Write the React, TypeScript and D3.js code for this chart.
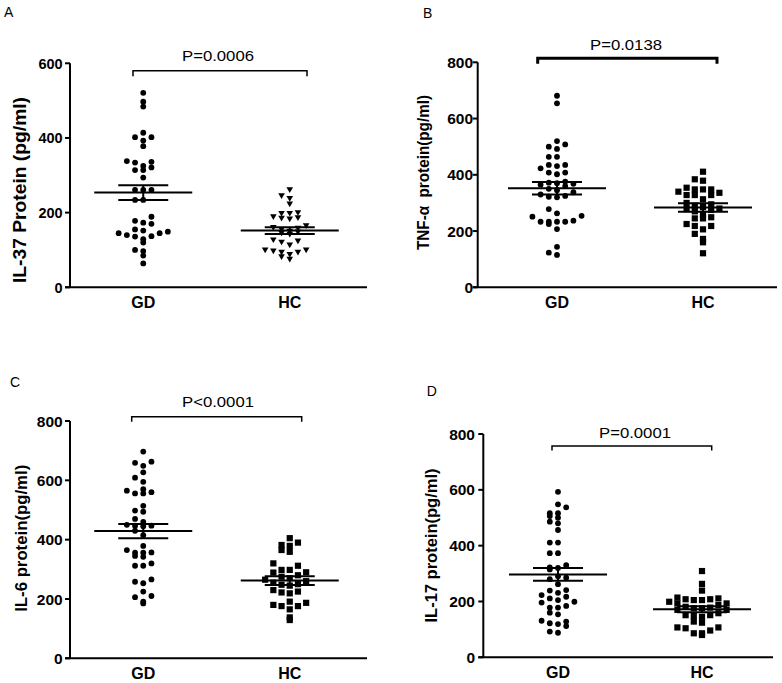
import React from 'react';
import * as d3 from 'd3';

const categories = ['GD', 'HC'];

// Panel A: IL-37
const il37GD = [521, 497, 484, 414, 393, 402, 402, 378, 338, 325, 314, 314, 321, 334, 336, 294, 261, 261, 261, 234, 234, 189, 178, 170, 173, 149, 145, 155, 152, 137, 140, 145, 136, 129, 120, 100, 97, 85, 64];
const il37HC = [261, 238, 245, 223, 200, 198, 183, 186, 189, 198, 185, 165, 160, 158, 155, 150, 148, 145, 142, 121, 124, 127, 113, 100, 94, 94, 97, 100, 88, 75, 82];
const il37Mean = [253.6, 152];
const il37Sem = [20, 9];

// Panel B: TNF-alpha
const tnfGD = [681, 654, 520, 508, 500, 492, 464, 464, 435, 431, 435, 423, 408, 402, 408, 376, 372, 370, 368, 365, 360, 350, 345, 338, 330, 325, 322, 320, 278, 263, 251, 254, 233, 233, 225, 233, 233, 237, 207, 144, 115, 123];
const tnfHC = [411, 384, 379, 354, 348, 340, 328, 328, 328, 336, 348, 348, 313, 300, 295, 290, 285, 280, 278, 275, 270, 249, 245, 257, 245, 218, 225, 206, 218, 190, 172, 160, 121];
const tnfMean = [352, 284];
const tnfSem = [22, 15];

// Panel C: IL-6
const il6GD = [697, 663, 659, 649, 627, 609, 595, 570, 560, 556, 556, 565, 514, 498, 494, 470, 460, 447, 447, 450, 445, 430, 415, 379, 365, 356, 345, 356, 357, 342, 312, 312, 320, 266, 253, 258, 225, 206, 185, 191, 210];
const il6HC = [405, 379, 390, 382, 359, 365, 320, 298, 289, 312, 298, 290, 280, 275, 270, 265, 260, 255, 250, 248, 245, 225, 219, 222, 230, 191, 180, 176, 165, 176, 187, 129, 138];
const il6Mean = [429, 262];
const il6Sem = [24, 15];

// Panel D: IL-17
const il17GD = [593, 548, 537, 516, 506, 486, 500, 516, 480, 456, 411, 411, 373, 373, 322, 315, 320, 330, 280, 285, 290, 262, 241, 231, 217, 223, 239, 211, 205, 196, 199, 178, 178, 184, 154, 160, 131, 122, 119, 128, 112, 88, 92];
const il17HC = [309, 263, 239, 211, 205, 193, 187, 193, 205, 199, 208, 208, 214, 178, 170, 181, 176, 170, 176, 151, 148, 145, 151, 158, 128, 124, 104, 96, 107, 107, 86, 80, 86];
const il17Mean = [297, 172];
const il17Sem = [23, 11];

const ticks600 = [0, 200, 400, 600];
const ticks800 = [0, 200, 400, 600, 800];
const yTitles = ['IL-37 Protein (pg/ml)', 'TNF-\u03b1  protein(pg/ml)', 'IL-6 protein(pg/ml)', 'IL-17 protein(pg/ml)'];
const pLabels = ['P=0.0006', 'P=0.0138', 'P<0.0001', 'P=0.0001'];
const letters = ['A', 'B', 'C', 'D'];

const FONT = '"Liberation Sans", Arial, Helvetica, sans-serif';

type Layout = {
  x0: number; x1: number; yTop: number; yBottom: number; catRange: [number, number];
  tickFont: number; tickOff: number; titleX: number; titleY: number; titleLen: number; titleFont: number;
  pX: number; pY: number; brY: number; brX: [number, number]; brDrop: number; brW: number;
  letterX: number; letterY: number;
};

const layouts: Layout[] = [
  { x0: 70, x1: 367, yTop: 63.3, yBottom: 287.3, catRange: [70, 363], tickFont: 14.5, tickOff: 7.3, titleX: 20, titleY: 190, titleLen: 186, titleFont: 18, pX: 218, pY: 60.7, brY: 70.7, brX: [133, 307], brDrop: 5.5, brW: 1.5, letterX: 4, letterY: 17 },
  { x0: 477.7, x1: 777, yTop: 62.3, yBottom: 287.3, catRange: [484, 776], tickFont: 15.5, tickOff: 4.6, titleX: 423, titleY: 172.5, titleLen: 155, titleFont: 16, pX: 626, pY: 50, brY: 58.3, brX: [537.7, 717], brDrop: 5.5, brW: 3, letterX: 423, letterY: 18.3 },
  { x0: 70, x1: 367, yTop: 421, yBottom: 658.3, catRange: [70, 363], tickFont: 15.5, tickOff: 7.3, titleX: 20.7, titleY: 538.3, titleLen: 147, titleFont: 16.5, pX: 218, pY: 406.7, brY: 416.7, brX: [131.7, 301.7], brDrop: 5, brW: 1.5, letterX: 10, letterY: 386.7 },
  { x0: 483.3, x1: 773, yTop: 434, yBottom: 657.3, catRange: [486, 774], tickFont: 15.5, tickOff: 8.3, titleX: 431, titleY: 545.5, titleLen: 154, titleFont: 16.5, pX: 635, pY: 438.3, brY: 446, brX: [552, 711.7], brDrop: 4.5, brW: 1.5, letterX: 426.7, letterY: 396 },
];

const STEP = 8.2;
const BIN = 8;

function swarm(values: number[], y: d3.ScaleLinear<number, number>, cx: number) {
  const y0 = y(0);
  const items = values.map((v, i) => ({ v, i }));
  const groups = d3.group(items, (d) => Math.floor((y0 - y(d.v)) / BIN));
  const out: { x: number; y: number }[] = [];
  groups.forEach((g) => {
    const sorted = g.slice().sort((a, b) => a.v - b.v);
    sorted.forEach((d, k) => {
      const slot = k % 2 === 1 ? -(k + 1) / 2 : k / 2;
      out.push({ x: cx + slot * STEP, y: y(d.v) });
    });
  });
  return out;
}

type PanelProps = {
  L: Layout; gd: number[]; hc: number[]; mean: number[]; sem: number[]; ticks: number[];
  title: string; pLabel: string; letter: string; hcShape: 'triangle' | 'square';
};

function Panel({ L, gd, hc, mean, sem, ticks, title, pLabel, letter, hcShape }: PanelProps) {
  const yMax = ticks[ticks.length - 1];
  const y = d3.scaleLinear().domain([0, yMax]).range([L.yBottom, L.yTop]);
  const x = d3.scalePoint<string>().domain(categories).range(L.catRange).padding(0.5);
  const gdPts = swarm(gd, y, x('GD') as number);
  const hcPts = swarm(hc, y, x('HC') as number);
  const tri = 'M-3.3,-2.5L3.3,-2.5L0,3.2Z';
  return (
    <g>
      <text x={L.letterX} y={L.letterY} fontSize={14} fontFamily={FONT}>{letter}</text>
      {/* axes */}
      <line x1={L.x0} x2={L.x0} y1={L.yTop} y2={L.yBottom} stroke="#000" strokeWidth={2} />
      <line x1={L.x0 - 5} x2={L.x1} y1={L.yBottom} y2={L.yBottom} stroke="#000" strokeWidth={2} />
      {ticks.map((t) => (
        <g key={t}>
          <line x1={L.x0 - 5} x2={L.x0} y1={y(t)} y2={y(t)} stroke="#000" strokeWidth={2} />
          <text x={L.x0 - L.tickOff} y={y(t)} dy="0.36em" textAnchor="end" fontSize={L.tickFont} fontWeight="bold" fontFamily={FONT}>{t}</text>
        </g>
      ))}
      {categories.map((c) => (
        <text key={c} x={x(c)} y={L.yBottom + 21} textAnchor="middle" fontSize={16} fontWeight="bold" fontFamily={FONT}>{c}</text>
      ))}
      <text transform={`translate(${L.titleX},${L.titleY}) rotate(-90)`} textAnchor="middle" dy="0.36em" fontSize={L.titleFont} fontWeight="bold" fontFamily={FONT} textLength={L.titleLen} lengthAdjust="spacingAndGlyphs" style={{ whiteSpace: 'pre' }}>{title}</text>
      {/* points */}
      {gdPts.map((p, i) => (
        <circle key={'g' + i} cx={p.x} cy={p.y} r={2.9} fill="#000" />
      ))}
      {hcPts.map((p, i) =>
        hcShape === 'triangle' ? (
          <path key={'h' + i} d={tri} transform={`translate(${p.x},${p.y})`} fill="#000" />
        ) : (
          <rect key={'h' + i} x={p.x - 3.1} y={p.y - 3.1} width={6.2} height={6.2} fill="#000" />
        )
      )}
      {/* mean +/- SEM */}
      {categories.map((c, i) => {
        const cx = x(c) as number;
        const hi = y(mean[i] + sem[i]);
        const lo = y(mean[i] - sem[i]);
        return (
          <g key={'m' + c} stroke="#000" strokeWidth={2}>
            <line x1={cx - 49} x2={cx + 49} y1={y(mean[i])} y2={y(mean[i])} />
            <line x1={cx - 25} x2={cx + 25} y1={hi} y2={hi} />
            <line x1={cx - 25} x2={cx + 25} y1={lo} y2={lo} />
            <line x1={cx} x2={cx} y1={hi} y2={lo} />
          </g>
        );
      })}
      {/* significance bracket */}
      <path d={`M${L.brX[0]},${L.brY + L.brDrop}V${L.brY}H${L.brX[1]}V${L.brY + L.brDrop}`} fill="none" stroke="#000" strokeWidth={L.brW} />
      <text x={L.pX} y={L.pY} textAnchor="middle" fontSize={15.5} fontFamily={FONT} textLength={72} lengthAdjust="spacingAndGlyphs">{pLabel}</text>
    </g>
  );
}

export default function App() {
  return (
    <svg width={782} height={683} style={{ position: 'absolute', left: 0, top: 0, background: '#fff' }}>
      <rect width={782} height={683} fill="#fff" />
      <Panel L={layouts[0]} gd={il37GD} hc={il37HC} mean={il37Mean} sem={il37Sem} ticks={ticks600} title={yTitles[0]} pLabel={pLabels[0]} letter={letters[0]} hcShape="triangle" />
      <Panel L={layouts[1]} gd={tnfGD} hc={tnfHC} mean={tnfMean} sem={tnfSem} ticks={ticks800} title={yTitles[1]} pLabel={pLabels[1]} letter={letters[1]} hcShape="square" />
      <Panel L={layouts[2]} gd={il6GD} hc={il6HC} mean={il6Mean} sem={il6Sem} ticks={ticks800} title={yTitles[2]} pLabel={pLabels[2]} letter={letters[2]} hcShape="square" />
      <Panel L={layouts[3]} gd={il17GD} hc={il17HC} mean={il17Mean} sem={il17Sem} ticks={ticks800} title={yTitles[3]} pLabel={pLabels[3]} letter={letters[3]} hcShape="square" />
    </svg>
  );
}
